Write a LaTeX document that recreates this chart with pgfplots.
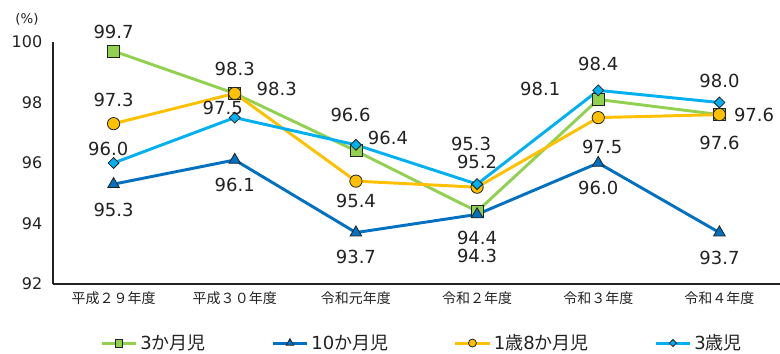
\documentclass[border=0pt]{standalone}
\usepackage{fontspec}
\setmainfont{DejaVu Sans}
\newfontfamily\jp{Noto Sans CJK JP}
\usepackage{pgfplots}
\pgfplotsset{compat=1.18}
\usepackage{pgfplotstable}

\definecolor{cgreen}{HTML}{92D050}
\definecolor{cblue}{HTML}{0070C0}
\definecolor{corange}{HTML}{FFC000}
\definecolor{ccyan}{HTML}{00B0F0}
\definecolor{ctext}{HTML}{222222}

\pgfplotstableread{
x y dx dy
0 99.7 0 14
1 98.3 0 18
2 96.4 24 10
3 94.4 0 -20
4 98.1 -43.5 8
5 97.6 26 0
}\tgreen
\pgfplotstableread{
x y dx dy
0 95.3 0 -19.5
1 96.1 0 -19
2 93.7 0 -18.5
3 94.3 0 -31
4 96.0 0 -19
5 93.7 0 -19
}\tblue
\pgfplotstableread{
x y dx dy
0 97.3 0 18
1 98.3 31.5 3
2 95.4 0 -14.5
3 95.2 0 19
4 97.5 3 -22
5 97.6 0 -21
}\torange
\pgfplotstableread{
x y dx dy
0 96.0 -4 10.5
1 97.5 -9 7
2 96.6 -4 22.5
3 95.3 -4.5 30
4 98.4 0 20
5 98.0 0 16.5
}\tcyan

\begin{document}
\begin{tikzpicture}
\begin{axis}[
  scale only axis,
  width=545.25pt, height=181.5pt,
  xmin=-0.5, xmax=5.5, ymin=92, ymax=100,
  ytick={92,94,...,100},
  xtick={0,...,5},
  xticklabels={平成２９年度,平成３０年度,令和元年度,令和２年度,令和３年度,令和４年度},
  axis x line*=bottom, axis y line*=left,
  axis line style={ctext, line width=0.8pt},
  major tick length=0pt,
  /pgf/number format/assume math mode=true,
  yticklabel style={font=\fontsize{12}{14}\selectfont, text=ctext, xshift=-4.5pt},
  xticklabel style={font=\jp\fontsize{10.5}{12}\selectfont, text=ctext, yshift=-2pt},
  clip=false,
  every axis plot/.append style={line width=2.2pt},
  visualization depends on={\thisrow{dx} \as \myDX},
  visualization depends on={\thisrow{dy} \as \myDY},
  nodes near coords={\pgfmathprintnumber[fixed,fixed zerofill,precision=1]{\pgfplotspointmeta}},
  point meta=y,
  nodes near coords style={anchor=center, xshift=\myDX pt, yshift=\myDY pt, text=ctext, font=\fontsize{13.5}{15}\selectfont, inner sep=0pt},
  legend style={at={(0.508,-0.244)}, anchor=center, legend columns=4, draw=none, fill=none,
    font=\fontsize{13.5}{15}\selectfont, text=ctext, inner sep=0pt,
    /tikz/every odd column/.append style={column sep=0pt},
    /tikz/every even column/.append style={column sep=47pt}},
  legend image code/.code={\draw[mark repeat=2,mark phase=2,#1] plot coordinates {(0pt,0pt)(13pt,0pt)(26pt,0pt)};},
  legend image post style={every mark/.append style={scale=0.65}},
]
\addplot[color=cgreen, mark=square*, mark size=4.5pt, mark options={fill=cgreen, draw=ctext, line width=0.6pt}] table[x=x,y=y] {\tgreen};
\addlegendentry{3{\jp か月児}}
\addplot[color=cblue, mark=triangle*, mark size=5pt, mark options={fill=cblue, draw=ctext, line width=0.6pt}] table[x=x,y=y] {\tblue};
\addlegendentry{10{\jp か月児}}
\addplot[color=corange, mark=*, mark size=4.6pt, mark options={fill=corange, draw=ctext, line width=0.6pt}] table[x=x,y=y] {\torange};
\addlegendentry{1{\jp 歳}8{\jp か月児}}
\addplot[color=ccyan, mark=square*, mark size=2.9pt, mark options={rotate=45, fill=ccyan, draw=ctext, line width=0.6pt}] table[x=x,y=y] {\tcyan};
\addlegendentry{3{\jp 歳児}}
\node[font=\fontsize{10}{12}\selectfont, text=ctext] at ([xshift=-19.5pt,yshift=17pt]rel axis cs:0,1) {(\%)};
\coordinate (BL) at ([xshift=-39.75pt,yshift=-52.5pt]rel axis cs:0,0);
\coordinate (TR) at ([yshift=31.5pt]rel axis cs:1,1);
\end{axis}
\pgfresetboundingbox
\useasboundingbox (BL) rectangle (TR);
\end{tikzpicture}
\end{document}
